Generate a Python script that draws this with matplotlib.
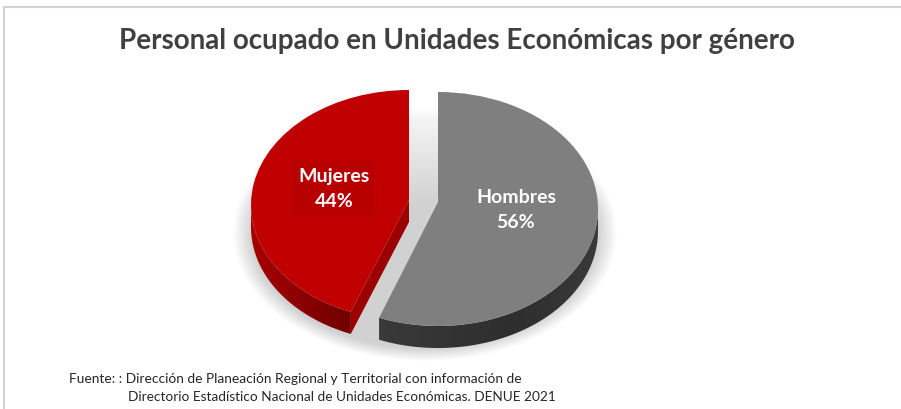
import numpy as np
import matplotlib
matplotlib.use("Agg")
import matplotlib.pyplot as plt
from matplotlib.colors import LinearSegmentedColormap
from matplotlib.patches import Polygon

categorias = ["Mujeres", "Hombres"]
porcentajes = [44, 56]
titulo = "Personal ocupado en Unidades Económicas por género"
fuente_1 = "Fuente: : Dirección de Planeación Regional y Territorial con información de"
fuente_2 = "Directorio Estadístico Nacional de Unidades Económicas. DENUE 2021"

W, H = 901, 410
plt.rcParams["font.family"] = ["Lato", "DejaVu Sans"]

fig = plt.figure(figsize=(W / 100, H / 100), dpi=100, facecolor="white")
bg = fig.add_axes([0, 0, 1, 1])

# sombra difusa debajo del pastel, se desvanece hacia arriba
X, Y = np.meshgrid(np.arange(W) + 0.5, np.arange(H) + 0.5)
r = np.sqrt(((X - 425) / 192) ** 2 + ((Y - 234) / 128) ** 2)
alpha = np.clip((1 - r) / 0.1, 0, 1) * np.clip((Y - 95) / 110, 0, 1) * 0.36
sombra = np.zeros((H, W, 4))
sombra[..., :3] = 0.5
sombra[..., 3] = alpha
bg.imshow(sombra, extent=(0, W, H, 0), aspect="auto")

bg.set_xlim(0, W)
bg.set_ylim(H, 0)
bg.axis("off")

# marco gris de arriba y de la izquierda
bg.plot([4, 4, W], [H, 8, 8], color="#d2d2d2", lw=1.5)

bg.text(457, 41, titulo, ha="center", va="center", fontsize=20,
        fontweight="bold", color="#404040")
bg.text(69, 379, fuente_1, ha="left", va="center", fontsize=9.95, color="#262626")
bg.text(128, 397, fuente_2, ha="left", va="center", fontsize=9.8, color="#262626")

LIM = 1.3


def rebanada(cx, cy, rx, ry, valor, resto, color, ccw, cmap_lado, sube=0, color_corte=None, prof=22):
    # ejes propios: un circulo unitario estirado a elipse
    ax = fig.add_axes([(cx - LIM * rx) / W, 1 - (cy + LIM * ry) / H,
                       2 * LIM * rx / W, 2 * LIM * ry / H])
    wedges, _ = ax.pie([valor, resto], colors=[color, "none"], radius=1,
                       startangle=90, counterclock=ccw, center=(0, 0))
    w = wedges[0]
    w.set_zorder(5)
    d = prof / ry

    # la perspectiva deja el vertice por encima del centro de la elipse
    vy = sube / ry
    v = w.get_path().vertices
    v[np.hypot(v[:, 0], v[:, 1]) < 1e-6, 1] = vy

    # pared lateral visible (solo la mitad inferior del borde)
    t1, t2 = w.theta1 % 360, w.theta2 % 360
    if t2 <= t1:
        t2 += 360
    th = np.radians(np.linspace(max(t1, 180), min(t2, 360), 120))
    x, y = np.cos(th), np.sin(th)
    verts = np.r_[np.c_[x, y], np.c_[x[::-1], y[::-1] - d]]
    lado = Polygon(verts, closed=True, transform=ax.transData, facecolor="none", edgecolor="none")
    ax.add_patch(lado)
    im = ax.imshow(np.linspace(0, 1, 256).reshape(1, -1), extent=(-1, 1, -1.4, 0.2),
                   cmap=cmap_lado, aspect="auto", zorder=2)
    im.set_clip_path(lado)

    if color_corte is not None:
        ang = np.radians(w.theta2)
        px, py = np.cos(ang), np.sin(ang)
        ax.add_patch(Polygon([(0, vy), (px, py), (px, py - d), (0, vy - d)], closed=True,
                             facecolor=color_corte, edgecolor="none", zorder=3))

    ax.set_aspect("auto")
    ax.set_xlim(-LIM, LIM)
    ax.set_ylim(-LIM, LIM)
    ax.axis("off")
    return ax


cmap_h = LinearSegmentedColormap.from_list("h", ["#4a4a4a", "#3c3c3c", "#343434", "#2e2e2e", "#3a3a3a"])
cmap_m = LinearSegmentedColormap.from_list("m", ["#a80000", "#7a0000", "#5c0000", "#580000", "#580000"])

rebanada(438, 210, 160, 117, porcentajes[1], porcentajes[0], "#7f7f7f", False, cmap_h, sube=7)
rebanada(409, 206, 158, 115, porcentajes[0], porcentajes[1], "#c00000", True, cmap_m, sube=5,
         color_corte="#9c0000")

# etiquetas encima de todo
top = fig.add_axes([0, 0, 1, 1], facecolor="none")
top.set_xlim(0, W)
top.set_ylim(H, 0)
top.axis("off")
top.text(334, 189, f"{categorias[0]}\n{porcentajes[0]}%", ha="center", va="center",
         color="white", fontsize=14, fontweight="bold", linespacing=1.6,
         bbox=dict(facecolor="#b80000", edgecolor="none", pad=4))
top.text(516, 210, f"{categorias[1]}\n{porcentajes[1]}%", ha="center", va="center",
         color="white", fontsize=14, fontweight="bold", linespacing=1.6)

fig.savefig("out.png", dpi=100)
